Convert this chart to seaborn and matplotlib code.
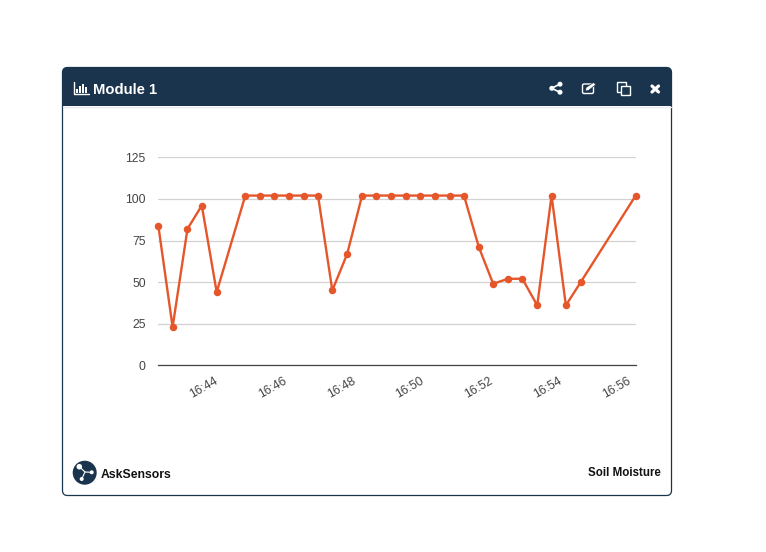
import pandas as pd
import matplotlib
matplotlib.use('Agg')
import matplotlib.pyplot as plt
import matplotlib.dates as mdates
from matplotlib.patches import Circle, FancyBboxPatch, Polygon, Rectangle
from matplotlib.transforms import ScaledTranslation
import seaborn as sns

# ── Data ──────────────────────────────────────────────────────────────────────
times = ['16:42:16', '16:42:41', '16:43:07', '16:43:32', '16:43:58', '16:44:48',
         '16:45:13', '16:45:38', '16:46:04', '16:46:30', '16:46:55', '16:47:20',
         '16:47:46', '16:48:12', '16:48:37', '16:49:02', '16:49:28', '16:49:54',
         '16:50:19', '16:50:45', '16:51:10', '16:51:36', '16:52:01', '16:52:27',
         '16:52:52', '16:53:18', '16:53:43', '16:54:08', '16:54:34', '16:56:10']
moisture = [84, 23, 82, 96, 44, 102,
            102, 102, 102, 102, 102, 45,
            67, 102, 102, 102, 102, 102,
            102, 102, 102, 71, 49, 52,
            52, 36, 102, 36, 50, 102]
y_ticks = [0, 25, 50, 75, 100, 125]
x_tick_minutes = [44, 46, 48, 50, 52, 54, 56]

title = 'Module 1'
brand = 'AskSensors'
sensor_name = 'Soil Moisture'

NAVY = '#1b344e'
ORANGE = '#e6562b'
W, H = 766, 552

df = pd.DataFrame({'time': pd.to_datetime(['2019-01-01 ' + t for t in times]),
                   'moisture': moisture})

sns.set_theme(style='white')
plt.rcParams['font.family'] = ['Liberation Sans', 'DejaVu Sans']

fig = plt.figure(figsize=(W / 100, H / 100), dpi=100, facecolor='white')

# ── Card, header and icons, in pixel coordinates ──────────────────────────────
bg = fig.add_axes([0, 0, 1, 1], zorder=0)
bg.set_xlim(0, W)
bg.set_ylim(H, 0)
bg.axis('off')

card = FancyBboxPatch((62.5, 67.5), 609, 428, boxstyle='round,pad=0,rounding_size=5',
                      fc='white', ec=NAVY, lw=0.9)
bg.add_patch(card)
header = Rectangle((62, 67), 610, 39, fc=NAVY, ec='none')
bg.add_patch(header)
header.set_clip_path(card)
bg.plot([63, 671], [106.5, 106.5], color='#e6eaf4', lw=1)

bg.text(93, 89.5, title, color='white', fontsize=10.7, fontweight='bold', va='center')
bg.text(101, 474.5, brand, color='#111111', fontsize=8.8, fontweight='bold', va='center')
bg.text(661, 473, sensor_name, color='#111111', fontsize=8.3, fontweight='bold',
        va='center', ha='right')

# bar chart icon
bg.plot([73.5, 73.5, 88.5], [82, 94, 94], color='white', lw=1)
for bx, top in zip([75.5, 78.5, 81.5, 84.5], [89, 86, 83.5, 87]):
    bg.add_patch(Rectangle((bx, top), 2, 92.8 - top, fc='white', ec='none'))

# share icon
bg.plot([560, 551.7, 560], [84, 88.3, 92.3], color='white', lw=1.2)
for cx, cy in [(560, 84.2), (551.8, 88.3), (560, 92.2)]:
    bg.add_patch(Circle((cx, cy), 2.5, fc='white', ec='none'))

# edit icon
bg.add_patch(FancyBboxPatch((582.5, 84), 11, 9.5, boxstyle='round,pad=0,rounding_size=1.5',
                            fc='none', ec='white', lw=1))
bg.add_patch(Polygon([[586, 87.5], [593.5, 82.5], [596, 84.5], [588.5, 90.5], [585.5, 91]],
                     fc='white', ec=NAVY, lw=0.5))

# copy icon
bg.add_patch(Rectangle((616.5, 82), 9.5, 10, fc='none', ec='white', lw=1))
bg.add_patch(Rectangle((620.5, 85.5), 9.5, 9.5, fc=NAVY, ec='white', lw=1))

# close icon
bg.plot([652, 658.5], [86, 92], color='white', lw=2.3, solid_capstyle='round')
bg.plot([652, 658.5], [92, 86], color='white', lw=2.3, solid_capstyle='round')

# logo
bg.add_patch(Circle((84.7, 472.7), 12, fc=NAVY, ec='none'))
bg.plot([79.3, 85, 91.7], [466.7, 472, 472.3], color='white', lw=0.8)
bg.plot([85, 81.7], [472, 479], color='white', lw=0.8)
bg.add_patch(Circle((79.3, 466.7), 2.8, fc='white', ec='none'))
bg.add_patch(Circle((91.7, 472.3), 2, fc='white', ec='none'))
bg.add_patch(Circle((81.7, 479), 2, fc='white', ec='none'))

# ── Line chart ────────────────────────────────────────────────────────────────
left, right, top, bottom = 158.3, 635.7, 157.3, 365.3
ax = fig.add_axes([left / W, 1 - bottom / H, (right - left) / W, (bottom - top) / H], zorder=1)
ax.patch.set_alpha(0)

sns.lineplot(data=df, x='time', y='moisture', ax=ax, color=ORANGE, lw=1.7,
             marker='o', markersize=5.4, markeredgewidth=0, clip_on=False, zorder=3)

ax.set_xlim(df['time'].iloc[0], df['time'].iloc[-1])
ax.set_ylim(0, 125)
ax.set_yticks(y_ticks)
ax.xaxis.set_major_locator(mdates.MinuteLocator(byminute=x_tick_minutes))
ax.xaxis.set_major_formatter(mdates.DateFormatter('%H:%M'))
ax.set_xlabel('')
ax.set_ylabel('')

ax.grid(axis='y', color='#d2d2d2', lw=0.9)
ax.grid(axis='x', visible=False)
ax.set_axisbelow(True)
sns.despine(ax=ax, left=True, top=True, right=True)
ax.spines['bottom'].set_color('#444444')
ax.spines['bottom'].set_linewidth(0.9)

ax.tick_params(axis='y', length=0, pad=9, labelsize=8.7, labelcolor='#444444')
ax.tick_params(axis='x', length=0, pad=7, labelsize=8.7, labelcolor='#444444')
# nudge the slanted labels left so they end where the reference's do
label_shift = ScaledTranslation(-3.5 / 100, 0, fig.dpi_scale_trans)
for lab in ax.get_xticklabels():
    lab.set(rotation=30, ha='right', rotation_mode='anchor')
    lab.set_transform(lab.get_transform() + label_shift)

fig.savefig('out.png', dpi=100)
